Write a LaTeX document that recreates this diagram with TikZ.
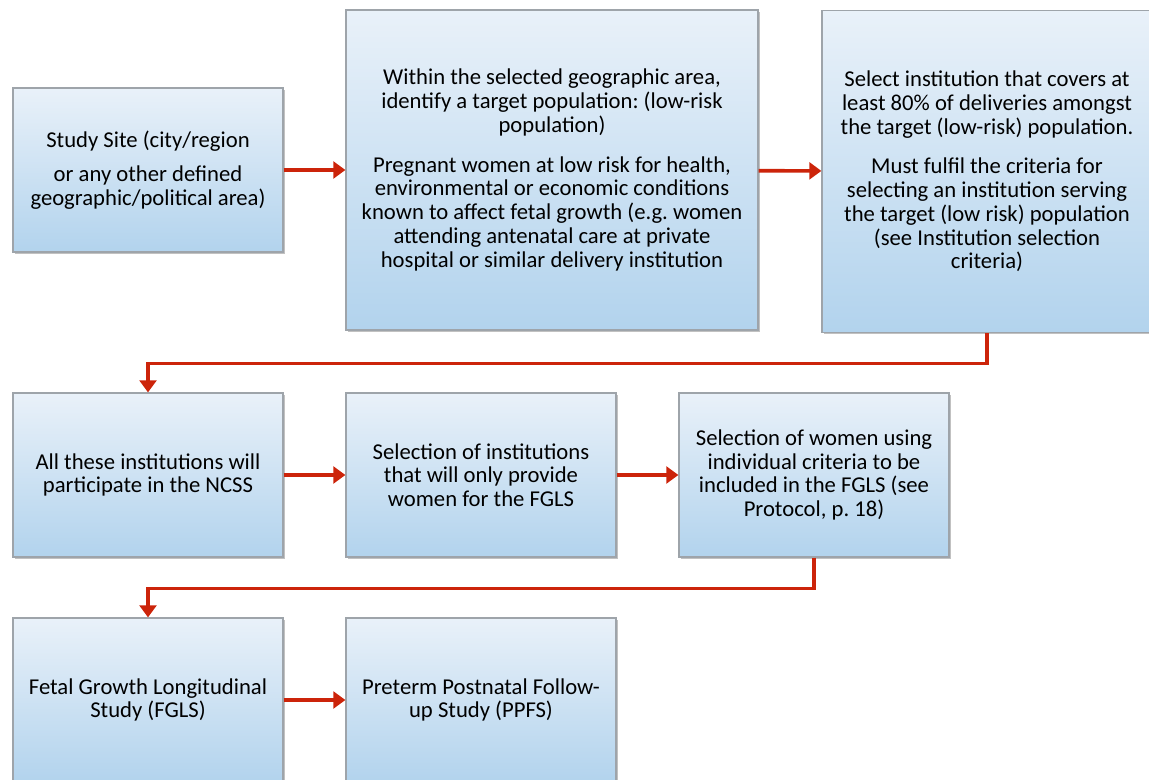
\documentclass[tikz,border=0pt]{standalone}
\usepackage{fontspec}
\setmainfont{Carlito}
\usepackage{tikz}
\usetikzlibrary{shapes,arrows,positioning,calc,shadows,arrows.meta}
\frenchspacing

\definecolor{boxtop}{RGB}{233,241,249}
\definecolor{boxbottom}{RGB}{178,211,237}
\definecolor{boxline}{RGB}{158,164,170}
\definecolor{flowred}{RGB}{204,36,10}

\tikzset{
    stagebox/.style={draw=boxline, line width=0.9pt, top color=boxtop, bottom color=boxbottom,
        align=center, inner sep=0pt, font=\fontsize{17}{17.8}\selectfont,
        drop shadow={shadow xshift=1.2pt, shadow yshift=-1.2pt, opacity=0.35, fill=black!70}},
    smallbox/.style={stagebox, minimum width=202.5pt, minimum height=123pt},
    flow/.style={draw=flowred, line width=2.7pt, -{Triangle[length=9pt,width=12.5pt]}}
}

\begin{document}
\begin{tikzpicture}[x=0.75pt, y=-0.75pt]
    \useasboundingbox (0,0) rectangle (1149,780);
    \clip (0,0) rectangle (1149,780);

    % First row
    \node[smallbox] (site) at (148,170)
        {Study Site (city/region\\[8pt]or any other defined\\geographic/political area)};
    \node[stagebox, minimum width=309pt, minimum height=240pt] (target) at (552,170)
        {Within the selected geographic area,\\identify a target population: (low-risk\\population)\\[12pt]
         Pregnant women at low risk for health,\\environmental or economic conditions\\known to affect fetal growth (e.g. women\\attending antenatal care at private\\hospital or similar delivery institution};
    \node[stagebox, minimum width=247.5pt, minimum height=242pt] (inst) at (987,171.5)
        {Select institution that covers at\\least 80\% of deliveries amongst\\the target (low-risk) population.\\[12pt]
         Must fulfil the criteria for\\selecting an institution serving\\the target (low risk) population\\(see Institution selection\\criteria)};

    % Second row
    \node[smallbox] (ncss) at (148,475)
        {All these institutions will\\participate in the NCSS};
    \node[smallbox] (select) at (481,475)
        {Selection of institutions\\that will only provide\\women for the FGLS};
    \node[smallbox] (women) at (814,475)
        {Selection of women using\\individual criteria to be\\included in the FGLS (see\\Protocol, p. 18)};

    % Third row
    \node[smallbox] (fgls) at (148,700)
        {Fetal Growth Longitudinal\\Study (FGLS)};
    \node[smallbox] (ppfs) at (481,700)
        {Preterm Postnatal Follow-\\up Study (PPFS)};

    % Arrows
    \draw[flow] (site) -- (target);
    \draw[flow] (target) -- (inst);
    \draw[flow] (inst.south) -- ++(0,30) -| (ncss.north);
    \draw[flow] (ncss) -- (select);
    \draw[flow] (select) -- (women);
    \draw[flow] (women.south) -- ++(0,31) -| (fgls.north);
    \draw[flow] (fgls) -- (ppfs);
\end{tikzpicture}
\end{document}
